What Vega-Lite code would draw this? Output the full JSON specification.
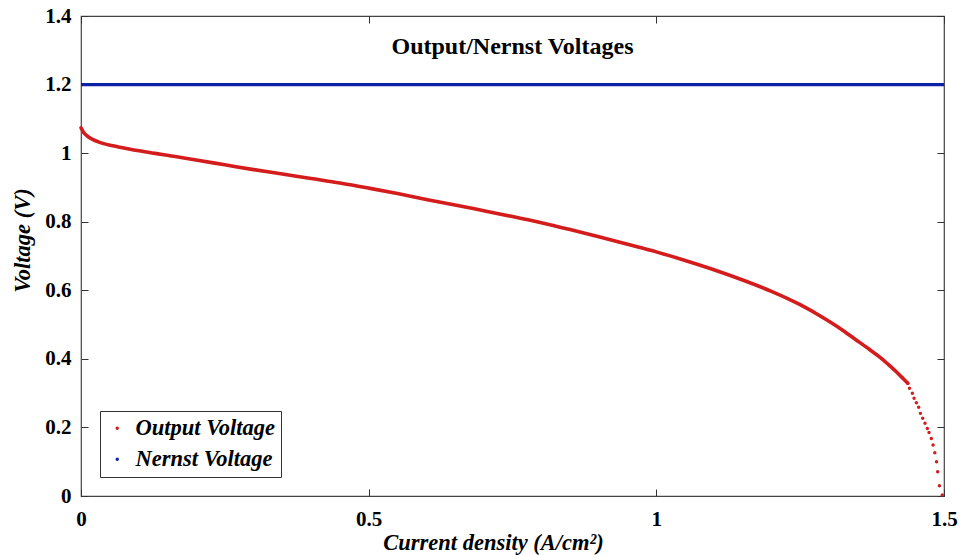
{
  "$schema": "https://vega.github.io/schema/vega-lite/v6.json",
  "width": 863,
  "height": 480,
  "autosize": {"type": "none"},
  "padding": {"left": 81, "top": 16, "right": 16, "bottom": 59},
  "background": "white",
  "title": {
    "text": "Output/Nernst Voltages",
    "anchor": "middle",
    "baseline": "middle",
    "offset": -34,
    "dy": 32,
    "font": "Liberation Serif",
    "fontSize": 24,
    "fontWeight": "bold",
    "color": "black"
  },
  "config": {
    "view": {"stroke": "#444", "strokeWidth": 1.2},
    "axis": {
      "grid": false,
      "domain": false,
      "labelFlush": false,
      "labelOverlap": false,
      "tickColor": "#333",
      "tickSize": -7,
      "labelFont": "Liberation Serif",
      "labelFontWeight": "bold",
      "labelFontSize": 21,
      "labelColor": "black",
      "titleFont": "Liberation Serif",
      "titleFontWeight": "bold",
      "titleFontStyle": "italic",
      "titleFontSize": 22.5,
      "titleColor": "black"
    }
  },
  "datasets": {
    "nernst": [
      {"j": 0, "v": 1.2, "series": "Nernst Voltage"},
      {"j": 1.5, "v": 1.2, "series": "Nernst Voltage"}
    ],
    "output": [
      {"j": 0.000, "v": 1.074, "series": "Output Voltage"},
      {"j": 0.004, "v": 1.062, "series": "Output Voltage"},
      {"j": 0.010, "v": 1.051, "series": "Output Voltage"},
      {"j": 0.020, "v": 1.040, "series": "Output Voltage"},
      {"j": 0.035, "v": 1.030, "series": "Output Voltage"},
      {"j": 0.065, "v": 1.018, "series": "Output Voltage"},
      {"j": 0.111, "v": 1.004, "series": "Output Voltage"},
      {"j": 0.169, "v": 0.989, "series": "Output Voltage"},
      {"j": 0.200, "v": 0.980, "series": "Output Voltage"},
      {"j": 0.250, "v": 0.966, "series": "Output Voltage"},
      {"j": 0.300, "v": 0.952, "series": "Output Voltage"},
      {"j": 0.350, "v": 0.939, "series": "Output Voltage"},
      {"j": 0.400, "v": 0.926, "series": "Output Voltage"},
      {"j": 0.450, "v": 0.913, "series": "Output Voltage"},
      {"j": 0.500, "v": 0.898, "series": "Output Voltage"},
      {"j": 0.550, "v": 0.882, "series": "Output Voltage"},
      {"j": 0.600, "v": 0.865, "series": "Output Voltage"},
      {"j": 0.650, "v": 0.849, "series": "Output Voltage"},
      {"j": 0.700, "v": 0.832, "series": "Output Voltage"},
      {"j": 0.750, "v": 0.815, "series": "Output Voltage"},
      {"j": 0.800, "v": 0.797, "series": "Output Voltage"},
      {"j": 0.850, "v": 0.777, "series": "Output Voltage"},
      {"j": 0.900, "v": 0.756, "series": "Output Voltage"},
      {"j": 0.950, "v": 0.734, "series": "Output Voltage"},
      {"j": 1.000, "v": 0.712, "series": "Output Voltage"},
      {"j": 1.050, "v": 0.687, "series": "Output Voltage"},
      {"j": 1.100, "v": 0.660, "series": "Output Voltage"},
      {"j": 1.150, "v": 0.630, "series": "Output Voltage"},
      {"j": 1.200, "v": 0.597, "series": "Output Voltage"},
      {"j": 1.250, "v": 0.558, "series": "Output Voltage"},
      {"j": 1.290, "v": 0.520, "series": "Output Voltage"},
      {"j": 1.320, "v": 0.488, "series": "Output Voltage"},
      {"j": 1.345, "v": 0.458, "series": "Output Voltage"},
      {"j": 1.370, "v": 0.428, "series": "Output Voltage"},
      {"j": 1.390, "v": 0.403, "series": "Output Voltage"},
      {"j": 1.405, "v": 0.381, "series": "Output Voltage"},
      {"j": 1.418, "v": 0.361, "series": "Output Voltage"},
      {"j": 1.428, "v": 0.344, "series": "Output Voltage"},
      {"j": 1.437, "v": 0.329, "series": "Output Voltage"},
      {"j": 1.440, "v": 0.314, "series": "Output Voltage"},
      {"j": 1.445, "v": 0.300, "series": "Output Voltage"},
      {"j": 1.448, "v": 0.285, "series": "Output Voltage"},
      {"j": 1.452, "v": 0.272, "series": "Output Voltage"},
      {"j": 1.456, "v": 0.259, "series": "Output Voltage"},
      {"j": 1.459, "v": 0.241, "series": "Output Voltage"},
      {"j": 1.463, "v": 0.227, "series": "Output Voltage"},
      {"j": 1.467, "v": 0.212, "series": "Output Voltage"},
      {"j": 1.471, "v": 0.197, "series": "Output Voltage"},
      {"j": 1.474, "v": 0.185, "series": "Output Voltage"},
      {"j": 1.478, "v": 0.168, "series": "Output Voltage"},
      {"j": 1.481, "v": 0.149, "series": "Output Voltage"},
      {"j": 1.484, "v": 0.126, "series": "Output Voltage"},
      {"j": 1.487, "v": 0.100, "series": "Output Voltage"},
      {"j": 1.489, "v": 0.071, "series": "Output Voltage"},
      {"j": 1.492, "v": 0.030, "series": "Output Voltage"},
      {"j": 1.497, "v": 0.003, "series": "Output Voltage"}
    ]
  },
  "resolve": {"axis": {"x": "independent", "y": "independent"}},
  "layer": [
    {
      "data": {"name": "nernst"},
      "mark": {"type": "line", "strokeWidth": 3.2},
      "encoding": {
        "x": {
          "field": "j", "type": "quantitative",
          "scale": {"domain": [0, 1.5], "nice": false},
          "axis": {
            "orient": "bottom", "values": [0, 0.5, 1, 1.5], "format": "~g",
            "labelPadding": 19,
            "title": "Current density (A/cm²)",
            "titleX": 412, "titleY": 46, "titleBaseline": "middle"
          }
        },
        "y": {
          "field": "v", "type": "quantitative",
          "scale": {"domain": [0, 1.4], "nice": false},
          "axis": {
            "orient": "left", "values": [0, 0.2, 0.4, 0.6, 0.8, 1, 1.2, 1.4], "format": "~g",
            "labelPadding": 17,
            "title": "Voltage (V)",
            "titleX": -59, "titleY": 224, "titleAngle": -90, "titleBaseline": "middle"
          }
        },
        "color": {
          "field": "series", "type": "nominal",
          "scale": {"domain": ["Output Voltage", "Nernst Voltage"], "range": ["#d41c1c", "#0b22a8"]},
          "legend": {
            "title": null,
            "orient": "bottom-left",
            "offset": 19,
            "padding": 6,
            "strokeColor": "#333",
            "fillColor": "white",
            "symbolType": "circle",
            "symbolSize": 12,
            "symbolStrokeWidth": 0,
            "labelFont": "Liberation Serif",
            "labelFontSize": 22.5,
            "labelFontWeight": "bold",
            "labelFontStyle": "italic",
            "labelColor": "black",
            "labelOffset": 7,
            "rowPadding": 8,
            "encode": {"symbols": {"update": {"fill": {"scale": "color", "field": "value"}}}}
          }
        }
      }
    },
    {
      "data": {"name": "output"},
      "transform": [{"filter": "datum.j <= 1.437"}],
      "mark": {"type": "line", "strokeWidth": 3.6, "strokeCap": "round", "interpolate": "monotone"},
      "encoding": {
        "x": {
          "field": "j", "type": "quantitative",
          "axis": {"orient": "top", "values": [0, 0.5, 1, 1.5], "labels": false, "title": null}
        },
        "y": {
          "field": "v", "type": "quantitative",
          "axis": {"orient": "right", "values": [0, 0.2, 0.4, 0.6, 0.8, 1, 1.2, 1.4], "labels": false, "title": null}
        },
        "color": {"field": "series", "type": "nominal"}
      }
    },
    {
      "data": {"name": "output"},
      "transform": [{"filter": "datum.j >= 1.428"}],
      "mark": {"type": "point", "filled": true, "size": 12, "opacity": 1},
      "encoding": {
        "x": {"field": "j", "type": "quantitative", "axis": null},
        "y": {"field": "v", "type": "quantitative", "axis": null},
        "color": {"field": "series", "type": "nominal"}
      }
    }
  ]
}
